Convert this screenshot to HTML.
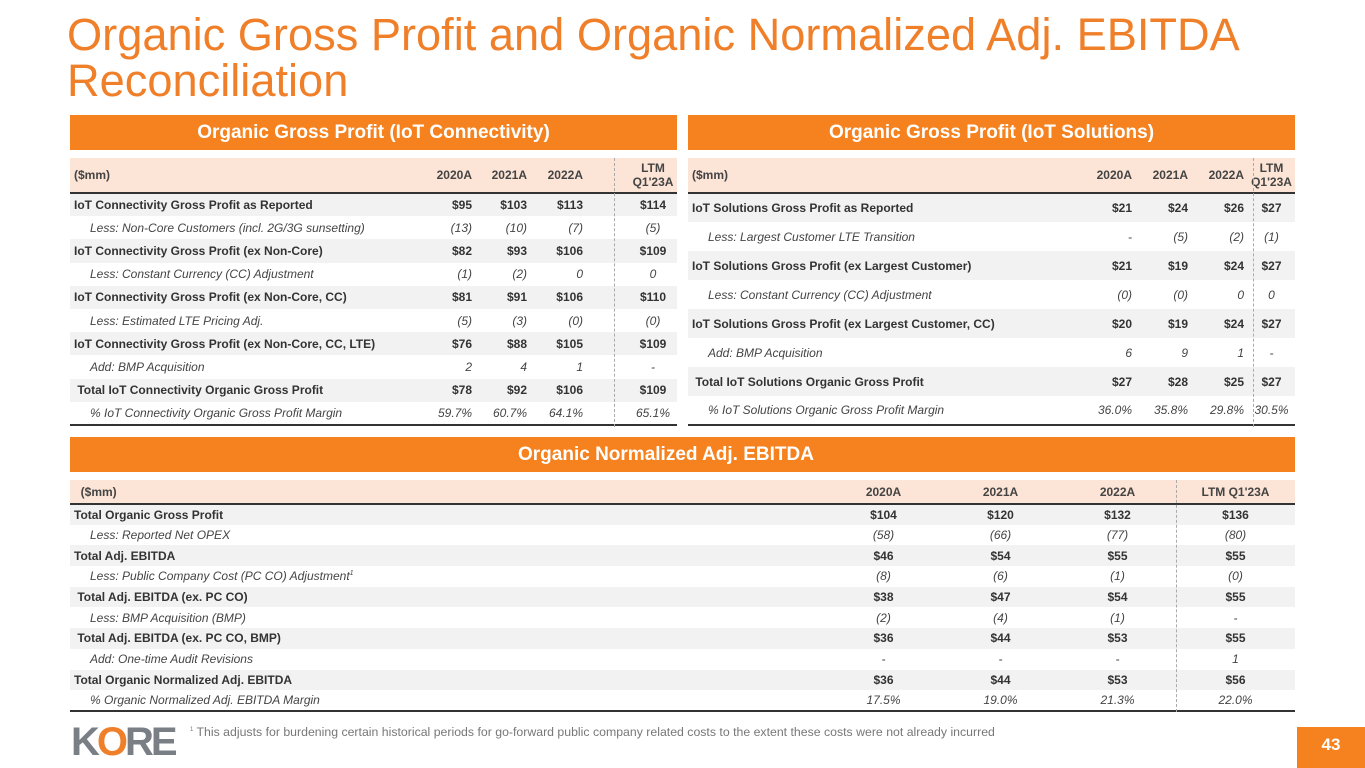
<!DOCTYPE html>
<html><head><meta charset="utf-8"><style>
*{margin:0;padding:0;box-sizing:border-box}
body{width:1365px;height:768px;background:#fff;position:relative;overflow:hidden;font-family:"Liberation Sans",sans-serif;color:#333}
.title{position:absolute;left:67px;top:12px;font-size:45.2px;line-height:46px;color:#F07F2A}
.bar{position:absolute;height:35px;background:#F5821F;color:#fff;font-weight:bold;font-size:19px;text-align:center;line-height:35px}
table{position:absolute;border-collapse:collapse;font-size:12px;table-layout:fixed}
td{padding:0 4px;white-space:nowrap}
tr.h td{background:#FCE4D6;font-weight:bold;color:#444;border-bottom:2px solid #333}
tr.b td{background:#F2F2F2;font-weight:bold;color:#333}
tr.i td{font-style:italic;color:#444}
tr.last td{border-bottom:2px solid #333}
td.n{text-align:right}
td.c{text-align:center;padding:0}
.L td.c{padding-left:42px}
.ind{padding-left:20px}
.dash{position:absolute;border-left:1px dashed #aaa}
</style></head><body>
<div class="title">Organic Gross Profit and Organic Normalized Adj. EBITDA<br>Reconciliation</div>

<div class="bar" style="left:70px;top:115px;width:607px">Organic Gross Profit (IoT Connectivity)</div>
<div class="bar" style="left:688px;top:115px;width:607px">Organic Gross Profit (IoT Solutions)</div>
<div class="bar" style="left:70px;top:437px;width:1225px;text-align:left;padding-left:448px">Organic Normalized Adj. EBITDA</div>

<table class="L" style="left:70px;top:158px;width:607px">
<colgroup><col style="width:354px"><col style="width:52px"><col style="width:55px"><col style="width:56px"><col style="width:90px"></colgroup>
<tr class="h" style="height:35px"><td>($mm)</td><td class="n">2020A</td><td class="n">2021A</td><td class="n">2022A</td><td class="c" style="line-height:14px">LTM<br>Q1'23A</td></tr>
<tr class="b" style="height:23.2px"><td>IoT Connectivity Gross Profit as Reported</td><td class="n">$95</td><td class="n">$103</td><td class="n">$113</td><td class="c">$114</td></tr>
<tr class="i" style="height:23.2px"><td class="ind">Less: Non-Core Customers (incl. 2G/3G sunsetting)</td><td class="n">(13)</td><td class="n">(10)</td><td class="n">(7)</td><td class="c">(5)</td></tr>
<tr class="b" style="height:23.2px"><td>IoT Connectivity Gross Profit (ex Non-Core)</td><td class="n">$82</td><td class="n">$93</td><td class="n">$106</td><td class="c">$109</td></tr>
<tr class="i" style="height:23.2px"><td class="ind">Less: Constant Currency (CC) Adjustment</td><td class="n">(1)</td><td class="n">(2)</td><td class="n">0</td><td class="c">0</td></tr>
<tr class="b" style="height:23.2px"><td>IoT Connectivity Gross Profit (ex Non-Core, CC)</td><td class="n">$81</td><td class="n">$91</td><td class="n">$106</td><td class="c">$110</td></tr>
<tr class="i" style="height:23.2px"><td class="ind">Less: Estimated LTE Pricing Adj.</td><td class="n">(5)</td><td class="n">(3)</td><td class="n">(0)</td><td class="c">(0)</td></tr>
<tr class="b" style="height:23.2px"><td>IoT Connectivity Gross Profit (ex Non-Core, CC, LTE)</td><td class="n">$76</td><td class="n">$88</td><td class="n">$105</td><td class="c">$109</td></tr>
<tr class="i" style="height:23.2px"><td class="ind">Add: BMP Acquisition</td><td class="n">2</td><td class="n">4</td><td class="n">1</td><td class="c">-</td></tr>
<tr class="b" style="height:23.2px"><td>&nbsp;Total IoT Connectivity Organic Gross Profit</td><td class="n">$78</td><td class="n">$92</td><td class="n">$106</td><td class="c">$109</td></tr>
<tr class="i last" style="height:23.2px"><td class="ind">% IoT Connectivity Organic Gross Profit Margin</td><td class="n">59.7%</td><td class="n">60.7%</td><td class="n">64.1%</td><td class="c">65.1%</td></tr>
</table>
<div class="dash" style="left:614px;top:158px;height:269px"></div>

<table style="left:688px;top:158px;width:607px">
<colgroup><col style="width:390px"><col style="width:58px"><col style="width:56px"><col style="width:56px"><col style="width:47px"></colgroup>
<tr class="h" style="height:35px"><td>($mm)</td><td class="n">2020A</td><td class="n">2021A</td><td class="n">2022A</td><td class="c" style="line-height:14px">LTM<br>Q1'23A</td></tr>
<tr class="b" style="height:29px"><td>IoT Solutions Gross Profit as Reported</td><td class="n">$21</td><td class="n">$24</td><td class="n">$26</td><td class="c">$27</td></tr>
<tr class="i" style="height:29px"><td class="ind">Less: Largest Customer LTE Transition</td><td class="n">-</td><td class="n">(5)</td><td class="n">(2)</td><td class="c">(1)</td></tr>
<tr class="b" style="height:29px"><td>IoT Solutions Gross Profit (ex Largest Customer)</td><td class="n">$21</td><td class="n">$19</td><td class="n">$24</td><td class="c">$27</td></tr>
<tr class="i" style="height:29px"><td class="ind">Less: Constant Currency (CC) Adjustment</td><td class="n">(0)</td><td class="n">(0)</td><td class="n">0</td><td class="c">0</td></tr>
<tr class="b" style="height:29px"><td>IoT Solutions Gross Profit (ex Largest Customer, CC)</td><td class="n">$20</td><td class="n">$19</td><td class="n">$24</td><td class="c">$27</td></tr>
<tr class="i" style="height:29px"><td class="ind">Add: BMP Acquisition</td><td class="n">6</td><td class="n">9</td><td class="n">1</td><td class="c">-</td></tr>
<tr class="b" style="height:29px"><td>&nbsp;Total IoT Solutions Organic Gross Profit</td><td class="n">$27</td><td class="n">$28</td><td class="n">$25</td><td class="c">$27</td></tr>
<tr class="i last" style="height:29px"><td class="ind">% IoT Solutions Organic Gross Profit Margin</td><td class="n">36.0%</td><td class="n">35.8%</td><td class="n">29.8%</td><td class="c">30.5%</td></tr>
</table>
<div class="dash" style="left:1253px;top:158px;height:269px"></div>

<table style="left:70px;top:480px;width:1225px">
<colgroup><col style="width:755px"><col style="width:117px"><col style="width:117px"><col style="width:117px"><col style="width:119px"></colgroup>
<tr class="h" style="height:24px"><td>&nbsp; ($mm)</td><td class="c">2020A</td><td class="c">2021A</td><td class="c">2022A</td><td class="c">LTM Q1'23A</td></tr>
<tr class="b" style="height:20.7px"><td>Total Organic Gross Profit</td><td class="c">$104</td><td class="c">$120</td><td class="c">$132</td><td class="c">$136</td></tr>
<tr class="i" style="height:20.7px"><td class="ind">Less: Reported Net OPEX</td><td class="c">(58)</td><td class="c">(66)</td><td class="c">(77)</td><td class="c">(80)</td></tr>
<tr class="b" style="height:20.7px"><td>Total Adj. EBITDA</td><td class="c">$46</td><td class="c">$54</td><td class="c">$55</td><td class="c">$55</td></tr>
<tr class="i" style="height:20.7px"><td class="ind">Less: Public Company Cost (PC CO) Adjustment<sup style="font-size:7px">1</sup></td><td class="c">(8)</td><td class="c">(6)</td><td class="c">(1)</td><td class="c">(0)</td></tr>
<tr class="b" style="height:20.7px"><td>&nbsp;Total Adj. EBITDA (ex. PC CO)</td><td class="c">$38</td><td class="c">$47</td><td class="c">$54</td><td class="c">$55</td></tr>
<tr class="i" style="height:20.7px"><td class="ind">Less: BMP Acquisition (BMP)</td><td class="c">(2)</td><td class="c">(4)</td><td class="c">(1)</td><td class="c">-</td></tr>
<tr class="b" style="height:20.7px"><td>&nbsp;Total Adj. EBITDA (ex. PC CO, BMP)</td><td class="c">$36</td><td class="c">$44</td><td class="c">$53</td><td class="c">$55</td></tr>
<tr class="i" style="height:20.7px"><td class="ind">Add: One-time Audit Revisions</td><td class="c">-</td><td class="c">-</td><td class="c">-</td><td class="c">1</td></tr>
<tr class="b" style="height:20.7px"><td>Total Organic Normalized Adj. EBITDA</td><td class="c">$36</td><td class="c">$44</td><td class="c">$53</td><td class="c">$56</td></tr>
<tr class="i last" style="height:20.7px"><td class="ind">% Organic Normalized Adj. EBITDA Margin</td><td class="c">17.5%</td><td class="c">19.0%</td><td class="c">21.3%</td><td class="c">22.0%</td></tr>
</table>
<div class="dash" style="left:1176px;top:480px;height:232px"></div>

<div style="position:absolute;left:71px;top:722px;font-size:40px;font-weight:bold;color:#7a7f85;letter-spacing:-3px;line-height:40px">K<span style="color:#F07F2A">O</span>RE</div>
<div style="position:absolute;left:190px;top:725px;font-size:12.3px;color:#777"><sup style="font-size:6px">1</sup> This adjusts for burdening certain historical periods for go-forward public company related costs to the extent these costs were not already incurred</div>
<div style="position:absolute;left:1297px;top:727px;width:68px;height:41px;background:#F5821F;color:#fff;font-weight:bold;font-size:17px;text-align:center;line-height:36px">43</div>
</body></html>
